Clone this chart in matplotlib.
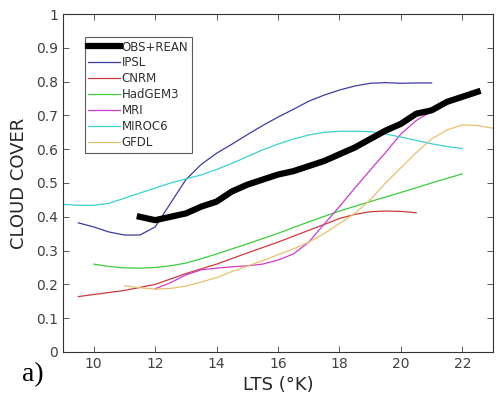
import matplotlib
matplotlib.use("Agg")
import matplotlib.pyplot as plt

obs_x = [11.5, 12, 12.5, 13, 13.5, 14, 14.5, 15, 15.5, 16, 16.5, 17, 17.5, 18, 18.5, 19, 19.5, 20, 20.5, 21, 21.5, 22, 22.5]
obs_y = [0.40, 0.39, 0.40, 0.41, 0.43, 0.445, 0.475, 0.495, 0.51, 0.525, 0.535, 0.55, 0.565, 0.585, 0.605, 0.63, 0.655, 0.675, 0.705, 0.715, 0.74, 0.755, 0.77]

ipsl_x = [9.5, 10, 10.5, 11, 11.5, 12, 12.5, 13, 13.5, 14, 14.5, 15, 15.5, 16, 16.5, 17, 17.5, 18, 18.5, 19, 19.5, 20, 20.5, 21]
ipsl_y = [0.382, 0.37, 0.355, 0.346, 0.346, 0.37, 0.44, 0.51, 0.555, 0.588, 0.615, 0.643, 0.67, 0.695, 0.718, 0.742, 0.76, 0.775, 0.787, 0.795, 0.797, 0.795, 0.796, 0.796]

cnrm_x = [9.5, 10, 11, 12, 13, 14, 15, 16, 17, 17.5, 18, 18.5, 19, 19.5, 20, 20.5]
cnrm_y = [0.164, 0.17, 0.182, 0.20, 0.232, 0.26, 0.293, 0.325, 0.36, 0.377, 0.395, 0.407, 0.415, 0.417, 0.416, 0.412]

had_x = [10, 10.5, 11, 11.5, 12, 12.5, 13, 13.5, 14, 15, 16, 17, 18, 19, 20, 21, 22]
had_y = [0.26, 0.253, 0.249, 0.248, 0.25, 0.255, 0.263, 0.276, 0.29, 0.32, 0.351, 0.385, 0.417, 0.445, 0.472, 0.50, 0.527]

mri_x = [12, 12.5, 13, 13.5, 14, 14.5, 15, 15.5, 16, 16.5, 17, 17.5, 18, 18.5, 19, 19.5, 20, 20.5, 21, 21.5, 22, 22.5]
mri_y = [0.187, 0.205, 0.228, 0.243, 0.248, 0.252, 0.255, 0.26, 0.272, 0.29, 0.325, 0.378, 0.43, 0.485, 0.538, 0.59, 0.645, 0.685, 0.712, 0.737, 0.755, 0.77]

miroc_x = [9, 9.5, 10, 10.5, 11, 11.5, 12, 12.5, 13, 13.5, 14, 14.5, 15, 15.5, 16, 16.5, 17, 17.5, 18, 18.5, 19, 19.5, 20, 20.5, 21, 21.5, 22]
miroc_y = [0.437, 0.434, 0.434, 0.44, 0.455, 0.47, 0.485, 0.50, 0.512, 0.524, 0.54, 0.558, 0.578, 0.598, 0.615, 0.63, 0.642, 0.65, 0.653, 0.653, 0.652, 0.645, 0.636, 0.626, 0.616, 0.608, 0.602]

gfdl_x = [11, 11.5, 12, 12.5, 13, 13.5, 14, 14.5, 15, 15.5, 16, 16.5, 17, 17.5, 18, 18.5, 19, 19.5, 20, 20.5, 21, 21.5, 22, 22.5, 23]
gfdl_y = [0.196, 0.19, 0.186, 0.188, 0.195, 0.207, 0.22, 0.238, 0.254, 0.27, 0.288, 0.305, 0.325, 0.35, 0.38, 0.41, 0.45, 0.5, 0.545, 0.59, 0.63, 0.657, 0.672, 0.67, 0.662]

labels = ["OBS+REAN", "IPSL", "CNRM", "HadGEM3", "MRI", "MIROC6", "GFDL"]
xticks = [10, 12, 14, 16, 18, 20, 22]
yticks = [0, 0.1, 0.2, 0.3, 0.4, 0.5, 0.6, 0.7, 0.8, 0.9, 1]
yticklabels = ["0", "0.1", "0.2", "0.3", "0.4", "0.5", "0.6", "0.7", "0.8", "0.9", "1"]

fig = plt.figure(figsize=(4.97, 4.05), dpi=100)
ax = fig.add_axes([0.1268, 0.1309, 0.8652, 0.8345])

ax.plot(obs_x, obs_y, color="black", lw=4.5, label=labels[0], zorder=5)
ax.plot(ipsl_x, ipsl_y, color="#3d3d9e", lw=0.9, label=labels[1])
ax.plot(cnrm_x, cnrm_y, color="#cc3b3b", lw=0.9, label=labels[2])
ax.plot(had_x, had_y, color="#3ccc3c", lw=0.9, label=labels[3])
ax.plot(mri_x, mri_y, color="#cc3ccc", lw=0.9, label=labels[4])
ax.plot(miroc_x, miroc_y, color="#3cd0d0", lw=0.9, label=labels[5])
ax.plot(gfdl_x, gfdl_y, color="#e8c070", lw=0.9, label=labels[6])

ax.set_xlim(9, 23)
ax.set_ylim(0, 1)
ax.set_xticks(xticks)
ax.set_yticks(yticks)
ax.set_yticklabels(yticklabels)
ax.tick_params(direction="in", top=True, right=True, length=4, width=0.6,
               labelsize=10, labelcolor="#404040", color="#404040")
for s in ax.spines.values():
    s.set_linewidth(0.8)
    s.set_color("#333333")

ax.set_xlabel("LTS (°K)", fontsize=13, color="#262626", labelpad=4)
ax.set_ylabel("CLOUD COVER", fontsize=13, color="#262626", labelpad=6)

leg = ax.legend(loc="upper left", bbox_to_anchor=(0.051, 0.932), fontsize=8.5,
                frameon=True, fancybox=False, edgecolor="#333333",
                handlelength=2.7, handletextpad=0.1, borderpad=0.3,
                labelspacing=0.25, borderaxespad=0)
leg.get_frame().set_linewidth(0.8)
for t in leg.get_texts():
    t.set_color("#303030")

fig.text(0.045, 0.06, "a)", fontsize=20, family="Liberation Serif", color="black")

fig.savefig("out.png", dpi=100)
